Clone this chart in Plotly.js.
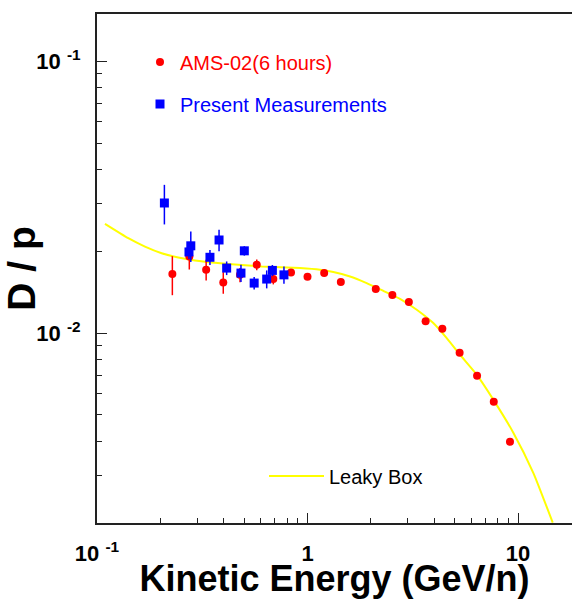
<!DOCTYPE html>
<html>
<head>
<meta charset="utf-8">
<script src="https://cdn.plot.ly/plotly-3.0.1.min.js"></script>
<style>html,body{margin:0;padding:0;background:#fff;}#chart{width:572px;height:599px;}</style>
</head>
<body>
<div id="chart"></div>
<script>
// AMS-02 (6 hours) simulated D/p
const amsEnergy = [0.228, 0.2745, 0.330, 0.398, 0.478, 0.574, 0.688, 0.835, 1.00, 1.20, 1.44, 2.11, 2.53, 3.03, 3.64, 4.37, 5.28, 6.39, 7.67, 9.16];
const amsRatio  = [0.01648, 0.01913, 0.0171, 0.01535, 0.01637, 0.01783, 0.0158, 0.0167, 0.0161, 0.01662, 0.0154, 0.01451, 0.0138, 0.0130, 0.01104, 0.01037, 0.00846, 0.00697, 0.00559, 0.00398];
const amsError  = [0.0027, 0.002, 0.0015, 0.0014, 0.001, 0.0008, 0.0007, 0.0005, 0.0004, 0.0004, 0.0003, 0.0003, 0.0003, 0.0003, 0.0002, 0.0002, 0.0002, 0.0002, 0.0001, 0.0001];

// Present measurements
const presEnergy = [0.209, 0.2735, 0.279, 0.344, 0.380, 0.413, 0.483, 0.501, 0.558, 0.640, 0.681, 0.773];
const presRatio  = [0.0301, 0.01988, 0.02094, 0.0190, 0.0220, 0.01734, 0.01662, 0.02007, 0.01527, 0.0158, 0.0170, 0.01637];
const presError  = [0.005, 0.0012, 0.0027, 0.0012, 0.002, 0.001, 0.0012, 0.0008, 0.0008, 0.0012, 0.0008, 0.0012];

// Leaky Box model
const lbEnergy = [0.1091, 0.1408, 0.1690, 0.2029, 0.2433, 0.2922, 0.4205, 0.6059, 0.921, 1.147, 1.326, 1.592, 1.910, 2.291, 2.751, 3.303, 3.959, 4.585, 5.302, 6.365, 7.632, 9.50, 11.82, 14.62];
const lbRatio  = [0.02522, 0.02234, 0.02081, 0.01967, 0.01896, 0.01849, 0.01794, 0.01758, 0.01734, 0.01709, 0.01676, 0.01615, 0.01527, 0.01430, 0.01336, 0.01218, 0.01088, 0.00958, 0.00832, 0.00703, 0.00569, 0.0043, 0.00306, 0.002006];

// Tick labels
const xTickVals = [0.1, 1, 10];
const xTickText = ['10 <sup>-1</sup>', '1', '10'];
const yTickVals = [0.01, 0.1];
const yTickText = ['10 <sup>-2</sup>', '10 <sup>-1</sup>'];

function minorTicks(decades, lo, hi) {
  const out = [];
  decades.forEach(d => { for (let k = 2; k <= 9; k++) { const v = k * Math.pow(10, d); if (v > lo && v < hi) out.push(v); } });
  return out;
}

const FONT = 'Liberation Sans, Arial, Helvetica, sans-serif';

const traces = [
  {
    x: lbEnergy, y: lbRatio, type: 'scatter', mode: 'lines', name: 'Leaky Box',
    line: {color: '#ffff00', width: 2, shape: 'spline', smoothing: 0.5},
    legend: 'legend3'
  },
  {
    x: amsEnergy, y: amsRatio, type: 'scatter', mode: 'markers', name: 'AMS-02(6 hours)',
    marker: {color: '#ff0000', size: 8, symbol: 'circle'},
    error_y: {type: 'data', array: amsError, visible: true, color: '#ff0000', thickness: 1.5, width: 0},
    legend: 'legend'
  },
  {
    x: presEnergy, y: presRatio, type: 'scatter', mode: 'markers', name: 'Present Measurements',
    marker: {color: '#0000ff', size: 9, symbol: 'square'},
    error_y: {type: 'data', array: presError, visible: true, color: '#0000ff', thickness: 1.5, width: 0},
    legend: 'legend2'
  }
];

const xMin = -1, xMax = 1.2565;
const yMin = -2.699, yMax = -0.826;

const layout = {
  width: 572, height: 599,
  margin: {l: 97, r: 0, t: 14, b: 76},
  paper_bgcolor: '#ffffff', plot_bgcolor: '#ffffff',
  showlegend: true,
  xaxis: {
    type: 'log', range: [xMin, xMax],
    showgrid: false, zeroline: false,
    showline: true, linecolor: '#222', linewidth: 2, mirror: true,
    ticks: 'inside', ticklen: 10, tickwidth: 1, tickcolor: '#222',
    tickmode: 'array', tickvals: xTickVals, ticktext: xTickText,
    tickfont: {family: FONT, size: 22, color: '#000', weight: 'bold'},
    ticklabelstandoff: 10,
    minor: {tickmode: 'array', tickvals: minorTicks([-1, 0, 1], 0.1, 18.1), ticks: 'inside', ticklen: 5, tickwidth: 1, tickcolor: '#222', showgrid: false},
    title: {text: 'Kinetic Energy (GeV/n)', font: {family: FONT, size: 36, color: '#000', weight: 'bold'}, standoff: 6}
  },
  yaxis: {
    type: 'log', range: [yMin, yMax],
    showgrid: false, zeroline: false,
    showline: true, linecolor: '#222', linewidth: 2, mirror: false,
    ticks: 'inside', ticklen: 10, tickwidth: 1, tickcolor: '#222',
    tickmode: 'array', tickvals: yTickVals, ticktext: yTickText,
    tickfont: {family: FONT, size: 22, color: '#000', weight: 'bold'},
    ticklabelstandoff: 10,
    minor: {tickmode: 'array', tickvals: minorTicks([-3, -2], 0.00199, 0.15), ticks: 'inside', ticklen: 5, tickwidth: 1, tickcolor: '#222', showgrid: false},
    title: {text: 'D / p', font: {family: FONT, size: 39, color: '#000', weight: 'bold'}, standoff: 6}
  },
  legend: {
    x: (140 - 97) / 475, y: 1 - (62 - 14) / 509, xanchor: 'left', yanchor: 'middle',
    bgcolor: 'rgba(0,0,0,0)', borderwidth: 0,
    font: {family: FONT, size: 20, color: '#ff0000'}, itemwidth: 30
  },
  legend2: {
    x: (140 - 97) / 475, y: 1 - (104 - 14) / 509, xanchor: 'left', yanchor: 'middle',
    bgcolor: 'rgba(0,0,0,0)', borderwidth: 0,
    font: {family: FONT, size: 20, color: '#0000ff'}, itemwidth: 30
  },
  legend3: {
    x: (264 - 97) / 475, y: 1 - (476 - 14) / 509, xanchor: 'left', yanchor: 'middle',
    bgcolor: 'rgba(0,0,0,0)', borderwidth: 0,
    font: {family: FONT, size: 20, color: '#000000'}, itemwidth: 55
  }
};

Plotly.newPlot('chart', traces, layout, {staticPlot: true, displayModeBar: false});
</script>
</body>
</html>
